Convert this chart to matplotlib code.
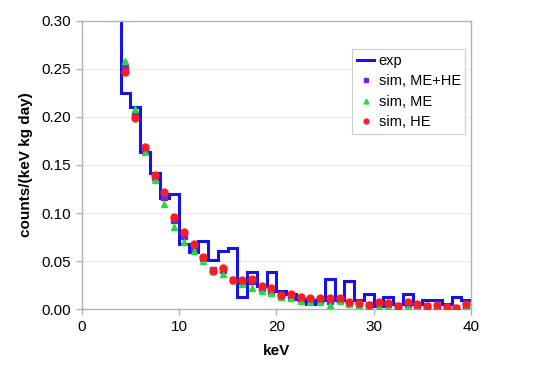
import numpy as np
import matplotlib.pyplot as plt

plt.rcParams['font.family'] = ['Liberation Sans', 'DejaVu Sans']

# measured spectrum, 1 keV bins (first bin is off scale, only its right edge shows)
exp_edges = np.arange(3, 41)
exp_vals = [0.36, 0.225, 0.21, 0.164, 0.142, 0.116, 0.12, 0.0675, 0.060, 0.071,
            0.051, 0.061, 0.064, 0.0125, 0.039, 0.024, 0.039, 0.019, 0.016, 0.011,
            0.006, 0.010, 0.032, 0.010, 0.029, 0.010, 0.016, 0.003, 0.013, 0.006,
            0.016, 0.006, 0.010, 0.010, 0.006, 0.013, 0.010]

# simulations at bin centres
sim_x = np.arange(4.5, 40, 1.0)
sim_mehe = [0.252, 0.202, 0.167, 0.137, 0.117, 0.093, 0.0765, 0.065, 0.053, 0.041,
            0.041, 0.030, 0.029, 0.029, 0.022, 0.019, 0.014, 0.014, 0.011, 0.010,
            0.010, 0.009, 0.010, 0.007, 0.006, 0.004, 0.006, 0.005, 0.003, 0.006,
            0.004, 0.003, 0.003, 0.002, 0.0015, 0.004]
sim_me = [0.258, 0.208, 0.164, 0.134, 0.109, 0.086, 0.070, 0.0606, 0.050, 0.040,
          0.0367, 0.030, 0.0263, 0.0218, 0.0193, 0.0166, 0.013, 0.0114, 0.009, 0.008,
          0.008, 0.0045, 0.009, 0.006, 0.0045, 0.003, 0.0027, 0.002, 0.002, 0.002,
          0.001, 0.001, 0.001, 0.001, 0.001, 0.001]
sim_he = [0.2466, 0.1985, 0.169, 0.1396, 0.1216, 0.0962, 0.080, 0.0675, 0.0547, 0.040,
          0.0426, 0.0304, 0.0304, 0.0318, 0.0242, 0.0218, 0.015, 0.0159, 0.0125, 0.0114,
          0.012, 0.012, 0.0114, 0.008, 0.007, 0.0045, 0.008, 0.007, 0.0037, 0.008,
          0.0055, 0.0037, 0.0045, 0.0027, 0.0017, 0.005]

fig = plt.figure(figsize=(5.46, 3.81), dpi=100)
ax = fig.add_axes([0.1496, 0.1882, 0.7130, 0.7575])

ax.stairs(exp_vals, exp_edges, baseline=None, color='#1414e6', lw=2.2,
          label='exp', zorder=2)
ax.plot(sim_x, sim_mehe, ls='none', marker='s', ms=4.5, color='#7a22d6',
        label='sim, ME+HE', zorder=3)
ax.plot(sim_x, sim_me, ls='none', marker='^', ms=5, color='#22dd3a',
        label='sim, ME', zorder=3)
ax.plot(sim_x, sim_he, ls='none', marker='o', ms=5, color='#ff1c1c',
        label='sim, HE', zorder=4)

ax.set_xlim(0, 40)
ax.set_ylim(0, 0.30)
ax.set_xticks([0, 10, 20, 30, 40])
ax.set_yticks(np.arange(0, 0.31, 0.05))
ax.set_yticklabels(['%.2f' % v for v in np.arange(0, 0.31, 0.05)])
ax.yaxis.grid(True, color='#ececec', lw=0.8)
ax.set_axisbelow(True)
for s in ax.spines.values():
    s.set_color('#a9b4bb')
    s.set_linewidth(1.0)
ax.tick_params(labelsize=11, color='#a9b4bb', length=4, width=1.0, pad=4)

ax.set_xlabel('keV', fontsize=11, fontweight='bold', labelpad=7)
ax.set_ylabel('counts/(keV kg day)', fontsize=11, fontweight='bold', labelpad=6)

leg = ax.legend(loc='upper right', bbox_to_anchor=(0.985, 0.901), borderaxespad=0,
                fontsize=10.5, fancybox=False, framealpha=1, edgecolor='#cccccc',
                handlelength=1.2, handletextpad=0.3, labelspacing=0.45,
                borderpad=0.3, markerscale=0.7)
leg.get_frame().set_linewidth(0.8)

fig.savefig('out.png', dpi=100)
